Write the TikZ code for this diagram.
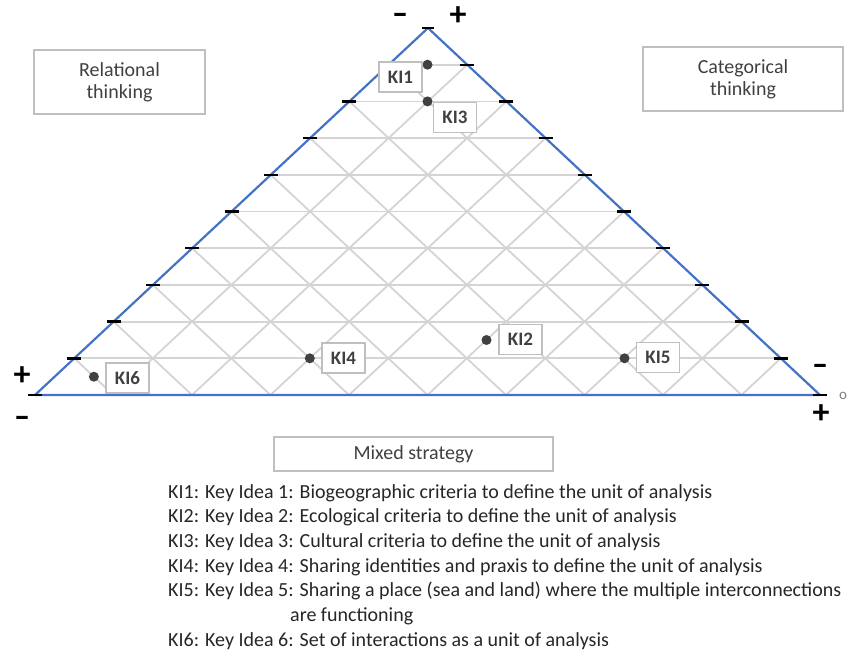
\documentclass[tikz,border=0pt]{standalone}
\usepackage{fontspec}
\setmainfont{Carlito}
\newfontfamily\signfont[FakeBold=3]{Carlito}
\usetikzlibrary{calc}
\definecolor{triblue}{HTML}{4472C4}
\definecolor{gridgray}{HTML}{D4D4D4}
\definecolor{boxgray}{HTML}{BFBFBF}
\definecolor{txtgray}{HTML}{404040}
\definecolor{legtxt}{HTML}{262626}
\begin{document}
\begin{tikzpicture}[x=1pt,y=-1pt,
  gridline/.style={draw=gridgray,line width=1.8pt},
  triline/.style={draw=triblue,line width=2.2pt,line join=round},
  tick/.style={draw=black,line width=2.4pt},
  kidot/.style={fill=txtgray},
  kibox/.style={draw=boxgray,line width=1.2pt,fill=white,minimum width=43pt,minimum height=30pt,inner sep=0pt,text=txtgray,font=\fontsize{19}{19}\selectfont\bfseries},
  bigbox/.style={draw=boxgray,line width=1.2pt,fill=white,inner sep=0pt,text=txtgray,align=center,font=\fontsize{20}{22}\selectfont},
  minus/.style={font=\signfont\fontsize{23}{23}\selectfont\bfseries,text=black,inner sep=0pt,xscale=1.8},
  plus/.style={font=\fontsize{34}{34}\selectfont\bfseries,text=black,inner sep=0pt},
  legend/.style={anchor=base west,inner sep=0pt,text=legtxt,font=\fontsize{20}{24}\selectfont}
]
\useasboundingbox (0,0) rectangle (857,670);
\coordinate (A) at (428,28);
\coordinate (L) at (35,395);
\coordinate (R) at (820,395);
% grid
\foreach \k in {1,...,9}{
  \draw[gridline] ($(A)!\k/10!(L)$) -- ($(A)!\k/10!(R)$);
  \draw[gridline] ($(A)!\k/10!(L)$) -- ($(L)!{1-\k/10}!(R)$);
  \draw[gridline] ($(A)!\k/10!(R)$) -- ($(L)!\k/10!(R)$);
}
% triangle
\draw[triline] (A) -- (L) -- (R) -- cycle;
% ticks
\foreach \k in {1,...,10}{
  \draw[tick] ($(A)!\k/10!(L)+(-7,0)$) -- ++(14,0);
  \draw[tick] ($(A)!\k/10!(R)+(-7,0)$) -- ++(14,0);
}
\draw[tick] ($(A)+(-6,0)$) -- ++(12,0);
% signs
\node[minus] (tminus) at (400,17) {-};
\node[plus] (tplus) at (458,16.5) {+};
\node[plus] (lplus) at (22,376) {+};
\node[minus] (lminus) at (22,420) {-};
\node[minus] (rminus) at (820,368) {-};
\node[plus] (rplus) at (821,414) {+};
\node[text=gray,font=\fontsize{15}{15}\selectfont,inner sep=0pt] (rzero) at (843,396) {o};
% dots
\fill[kidot] (427.5,64.7) circle (5);
\fill[kidot] (427.5,101.4) circle (5);
\fill[kidot] (93.9,376.7) circle (5);
\fill[kidot] (309.8,358.3) circle (5);
\fill[kidot] (486.5,340) circle (5);
\fill[kidot] (624.5,358.3) circle (5);
% KI boxes
\node[kibox] (ki1) at (400.5,77) {KI1};
\node[kibox] (ki3) at (455,117.5) {KI3};
\node[kibox] (ki6) at (127.5,378) {KI6};
\node[kibox] (ki4) at (343.5,358) {KI4};
\node[kibox] (ki2) at (520.5,339.5) {KI2};
\node[kibox] (ki5) at (658,357.5) {KI5};
% big boxes
\node[bigbox,minimum width=171pt,minimum height=64pt] (rel) at (119.5,82) {Relational\\thinking};
\node[bigbox,minimum width=200pt,minimum height=64pt] (cat) at (743,79) {Categorical\\thinking};
\node[bigbox,minimum width=279pt,minimum height=34pt] (mix) at (413.5,454) {Mixed strategy};
% legend
\node[legend] (l1) at (168,498) {KI1: Key Idea 1: Biogeographic criteria to define the unit of analysis};
\node[legend] (l2) at (168,522.7) {KI2: Key Idea 2: Ecological criteria to define the unit of analysis};
\node[legend] (l3) at (168,547.4) {KI3: Key Idea 3: Cultural criteria to define the unit of analysis};
\node[legend] (l4) at (168,572.1) {KI4: Key Idea 4: Sharing identities and praxis to define the unit of analysis};
\node[legend] (l5) at (168,596.8) {KI5: Key Idea 5: Sharing a place (sea and land) where the multiple interconnections};
\node[legend] (l5b) at (290,621.5) {are functioning};
\node[legend] (l6) at (168,646.2) {KI6: Key Idea 6: Set of interactions as a unit of analysis};
\end{tikzpicture}
\end{document}
